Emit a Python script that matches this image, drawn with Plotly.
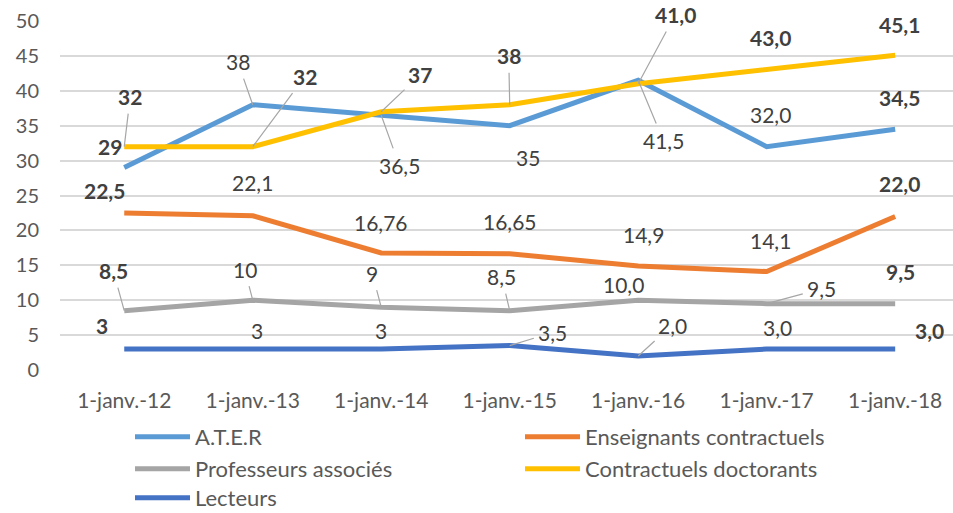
import plotly.graph_objects as go

categories = ["1-janv.-12", "1-janv.-13", "1-janv.-14", "1-janv.-15",
              "1-janv.-16", "1-janv.-17", "1-janv.-18"]

ater = [29, 38, 36.5, 35, 41.5, 32.0, 34.5]
enseignants = [22.5, 22.1, 16.76, 16.65, 14.9, 14.1, 22.0]
professeurs = [8.5, 10, 9, 8.5, 10.0, 9.5, 9.5]
doctorants = [32, 32, 37, 38, 41.0, 43.0, 45.1]
lecteurs = [3, 3, 3, 3.5, 2.0, 3.0, 3.0]

ater_lbl = ["29", "38", "36,5", "35", "41,5", "32,0", "34,5"]
enseignants_lbl = ["22,5", "22,1", "16,76", "16,65", "14,9", "14,1", "22,0"]
professeurs_lbl = ["8,5", "10", "9", "8,5", "10,0", "9,5", "9,5"]
doctorants_lbl = ["32", "32", "37", "38", "41,0", "43,0", "45,1"]
lecteurs_lbl = ["3", "3", "3", "3,5", "2,0", "3,0", "3,0"]

ater_bold = [1, 0, 0, 0, 0, 0, 1]
enseignants_bold = [1, 0, 0, 0, 0, 0, 1]
professeurs_bold = [1, 0, 0, 0, 0, 0, 1]
doctorants_bold = [1, 1, 1, 1, 1, 1, 1]
lecteurs_bold = [1, 0, 0, 0, 0, 0, 1]

# label offsets in pixels (dx, dy downward, leader line flag)
ater_off = [(-14, -21, 0), (-15, -43, 1), (18, 50, 1), (18, 32, 0), (25, 60, 1), (4, -32, 0), (4, -32, 0)]
enseignants_off = [(-20, -22, 0), (0, -33, 0), (0, -31, 0), (0, -32, 0), (5, -32, 0), (4, -31, 0), (4, -33, 0)]
professeurs_off = [(-11, -40, 1), (-8, -31, 1), (-9, -34, 1), (-8, -34, 1), (-15, -16, 0), (55, -15, 1), (5, -32, 0)]
doctorants_off = [(6, -50, 1), (52, -70, 1), (39, -37, 1), (-1, -49, 1), (37, -69, 1), (4, -32, 0), (4, -31, 0)]
lecteurs_off = [(-22, -24, 0), (4, -19, 0), (0, -19, 0), (43, -13, 1), (34, -31, 1), (11, -22, 0), (34, -19, 0)]

FONT = "Lato"
series = [
    ("A.T.E.R", ater, ater_lbl, ater_bold, ater_off, "#5B9BD5", "legend"),
    ("Enseignants contractuels", enseignants, enseignants_lbl, enseignants_bold, enseignants_off, "#ED7D31", "legend"),
    ("Professeurs associés", professeurs, professeurs_lbl, professeurs_bold, professeurs_off, "#A5A5A5", "legend2"),
    ("Contractuels doctorants", doctorants, doctorants_lbl, doctorants_bold, doctorants_off, "#FFC000", "legend2"),
    ("Lecteurs", lecteurs, lecteurs_lbl, lecteurs_bold, lecteurs_off, "#4472C4", "legend3"),
]

fig = go.Figure()
annotations = []
for name, vals, lbls, bolds, offs, color, leg in series:
    fig.add_trace(go.Scatter(
        x=categories, y=vals, mode="lines", name=name,
        line=dict(color=color, width=5), legend=leg, hoverinfo="skip",
    ))
    for c, v, t, b, (dx, dy, lead) in zip(categories, vals, lbls, bolds, offs):
        txt = f"<b>{t}</b>" if b else t
        if lead:
            annotations.append(dict(
                x=c, y=v, xref="x", yref="y", text=txt, showarrow=True,
                ax=dx, ay=dy, arrowhead=0, arrowwidth=1.2, arrowcolor="#A6A6A6",
                standoff=0, startstandoff=3,
                font=dict(family=FONT, size=21, color="#404040"),
            ))
        else:
            annotations.append(dict(
                x=c, y=v, xref="x", yref="y", text=txt, showarrow=False,
                xshift=dx, yshift=-dy,
                font=dict(family=FONT, size=21, color="#404040"),
            ))

leg_common = dict(
    orientation="h", xref="container", yref="container",
    xanchor="left", yanchor="middle",
    font=dict(family=FONT, size=22, color="#595959"),
    bgcolor="rgba(0,0,0,0)", borderwidth=0,
    entrywidth=320, entrywidthmode="pixels", itemwidth=55,
    tracegroupgap=0,
)
x_leg = 130 / 953

fig.update_layout(
    width=953, height=513,
    margin=dict(l=60, r=0, t=21, b=143, pad=0),
    plot_bgcolor="white", paper_bgcolor="white",
    font=dict(family=FONT, color="#595959"),
    xaxis=dict(
        type="category", range=[-0.5, 6.45], showgrid=False, showline=False,
        zeroline=False, ticks="", tickfont=dict(family=FONT, size=21, color="#595959"),
        ticklabelstandoff=16, automargin=False,
    ),
    yaxis=dict(
        range=[0, 50], dtick=5, tick0=0, showgrid=True, gridcolor="#D9D9D9",
        gridwidth=1.5, zeroline=False, showline=False, ticks="",
        tickfont=dict(family=FONT, size=20, color="#595959"),
        ticklabelstandoff=20, automargin=False,
    ),
    legend=dict(leg_common, x=x_leg, y=1 - 437 / 513),
    legend2=dict(leg_common, x=x_leg, y=1 - 469 / 513),
    legend3=dict(leg_common, x=x_leg, y=1 - 498 / 513),
    annotations=annotations,
    showlegend=True,
)

fig.write_html(
    "out.html",
    config={"displayModeBar": False},
    post_script="document.body.style.margin='0px';document.body.style.overflow='hidden';",
)
